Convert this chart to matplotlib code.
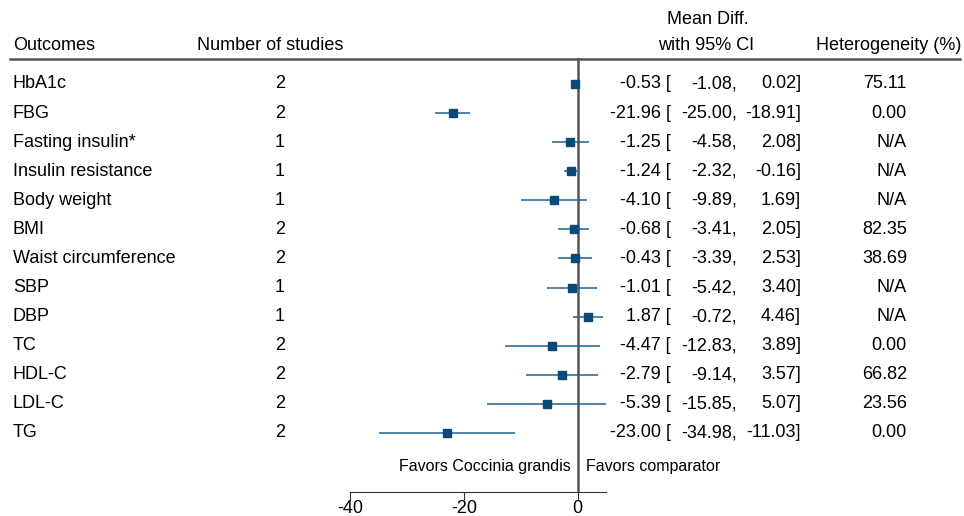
import numpy as np
import matplotlib.pyplot as plt
from matplotlib.transforms import blended_transform_factory

plt.rcParams['font.family'] = ['Liberation Sans', 'DejaVu Sans']
plt.rcParams['axes.unicode_minus'] = False

outcomes = ["HbA1c", "FBG", "Fasting insulin*", "Insulin resistance", "Body weight",
            "BMI", "Waist circumference", "SBP", "DBP", "TC", "HDL-C", "LDL-C", "TG"]
n_studies = [2, 2, 1, 1, 1, 2, 2, 1, 1, 2, 2, 2, 2]
md = [-0.53, -21.96, -1.25, -1.24, -4.10, -0.68, -0.43, -1.01, 1.87, -4.47, -2.79, -5.39, -23.00]
lo = [-1.08, -25.00, -4.58, -2.32, -9.89, -3.41, -3.39, -5.42, -0.72, -12.83, -9.14, -15.85, -34.98]
hi = [0.02, -18.91, 2.08, -0.16, 1.69, 2.05, 2.53, 3.40, 4.46, 3.89, 3.57, 5.07, -11.03]
het = ["75.11", "0.00", "N/A", "N/A", "N/A", "82.35", "38.69", "N/A", "N/A", "0.00", "66.82", "23.56", "0.00"]

W, H = 964, 516
fig = plt.figure(figsize=(W / 100, H / 100), dpi=100)
# plot panel: x from -40 to 5, y in pixel rows (top = header line)
ax = fig.add_axes([350 / W, 1 - 492 / H, 256 / W, (492 - 58) / H])
ax.set_xlim(-40, 5)
ax.set_ylim(492, 58)
for s in ["left", "right", "top"]:
    ax.spines[s].set_visible(False)
ax.spines["bottom"].set_color("#333333")
ax.set_yticks([])
ax.set_xticks([-40, -20, 0])
ax.tick_params(axis="x", labelsize=13, length=6, color="#333333", pad=0)

rows = 84 + 29.08 * np.arange(len(outcomes))

ax.axvline(0, color="#555555", lw=1.8, zorder=1)
ax.hlines(rows, lo, hi, color="#22608e", lw=1.1, zorder=2)
ax.plot(md, rows, "s", color="#0b4a78", ms=5.3, zorder=3)

fx = blended_transform_factory(fig.transFigure, ax.transData)
def px(x):
    return x / W

fs = 13
for i, y in enumerate(rows):
    ax.text(px(13), y, outcomes[i], transform=fx, fontsize=fs, va="center", ha="left")
    ax.text(px(280), y, str(n_studies[i]), transform=fx, fontsize=fs, va="center", ha="center")
    ax.text(px(671), y, f"{md[i]:.2f} [", transform=fx, fontsize=fs, va="center", ha="right")
    ax.text(px(737), y, f"{lo[i]:.2f},", transform=fx, fontsize=fs, va="center", ha="right")
    ax.text(px(801), y, f"{hi[i]:.2f}]", transform=fx, fontsize=fs, va="center", ha="right")
    ax.text(px(907), y, het[i], transform=fx, fontsize=fs, va="center", ha="right")

# header
ax.text(px(13), 45, "Outcomes", transform=fx, fontsize=fs, va="center", ha="left")
ax.text(px(270), 45, "Number of studies", transform=fx, fontsize=fs, va="center", ha="center")
ax.text(px(708), 20, "Mean Diff.", transform=fx, fontsize=fs, va="center", ha="center")
ax.text(px(706), 45, "with 95% CI", transform=fx, fontsize=fs, va="center", ha="center")
ax.text(px(889), 45, "Heterogeneity (%)", transform=fx, fontsize=fs, va="center", ha="center")
ax.plot([px(10), px(960)], [59, 59], transform=fx, color="#555555", lw=1.8, clip_on=False)

ax.text(-1.2, 467, "Favors Coccinia grandis", fontsize=11.5, va="center", ha="right")
ax.text(1.4, 467, "Favors comparator", fontsize=11.5, va="center", ha="left")

fig.savefig("out.png", dpi=100)
